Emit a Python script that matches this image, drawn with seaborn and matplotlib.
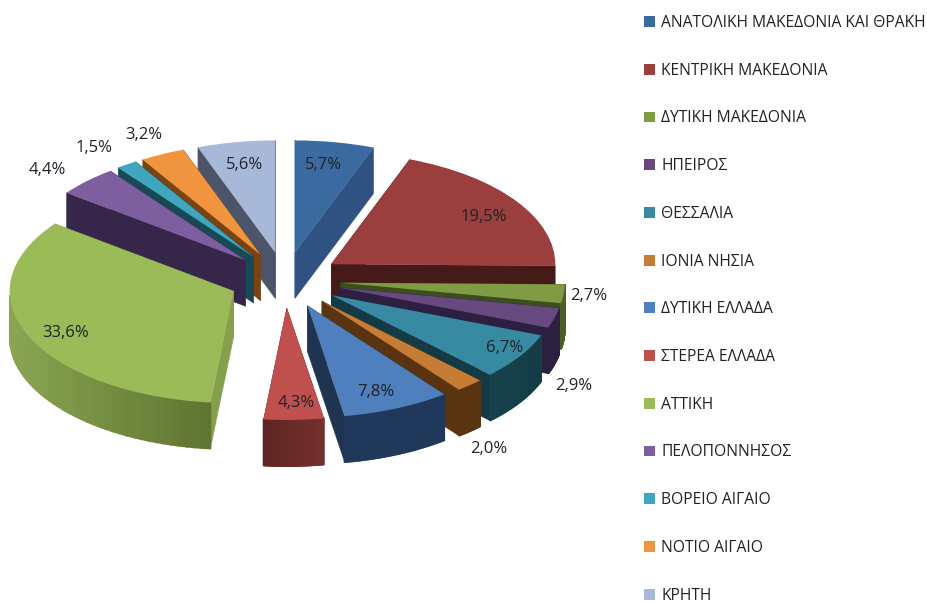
"""Exploded 3D-style pie of the Greek regions, pie faces from ax.pie, walls from the wedge geometry."""
import numpy as np
import matplotlib
matplotlib.use("Agg")
import matplotlib.pyplot as plt
from matplotlib.colors import to_rgb
from matplotlib.patches import Patch
import seaborn as sns

regions = ["ΑΝΑΤΟΛΙΚΗ ΜΑΚΕΔΟΝΙΑ ΚΑΙ ΘΡΑΚΗ", "ΚΕΝΤΡΙΚΗ ΜΑΚΕΔΟΝΙΑ", "ΔΥΤΙΚΗ ΜΑΚΕΔΟΝΙΑ",
           "ΗΠΕΙΡΟΣ", "ΘΕΣΣΑΛΙΑ", "ΙΟΝΙΑ ΝΗΣΙΑ", "ΔΥΤΙΚΗ ΕΛΛΑΔΑ", "ΣΤΕΡΕΑ ΕΛΛΑΔΑ",
           "ΑΤΤΙΚΗ", "ΠΕΛΟΠΟΝΝΗΣΟΣ", "ΒΟΡΕΙΟ ΑΙΓΑΙΟ", "ΝΟΤΙΟ ΑΙΓΑΙΟ", "ΚΡΗΤΗ"]
shares = [5.7, 19.5, 2.7, 2.9, 6.7, 2.0, 7.8, 4.3, 33.6, 4.4, 1.5, 3.2, 5.6]

top_colors = ["#3a6a9f", "#9a3f3d", "#7f9c45", "#67497f", "#388aa3", "#c67c34", "#4f7fbc",
              "#c0504d", "#9bbb59", "#7d5fa0", "#3fa6c0", "#f0953e", "#a8b8d8"]
edge_colors = ["#2f5282", "#451a18", "#3c4d1f", "#2d1f3f", "#143a44", "#5a3410", "#1f3450",
               "#5e2422", "#84a04c", "#35264a", "#174a56", "#7a4313", "#4b5468"]
wall_left = ["#2f5282", "#451a18", "#4a5e25", "#2d1f3f", "#16434e", "#5a3410", "#20385a",
             "#5e2422", "#8aa653", "#35264a", "#174a56", "#7a4313", "#4b5468"]
wall_right = ["#2f5282", "#451a18", "#4a5e25", "#2d1f3f", "#153c46", "#5a3410", "#20385a",
              "#74302d", "#5f7430", "#35264a", "#174a56", "#7a4313", "#4b5468"]

# label centres in picture pixels
label_px = [(324, 165), (484, 217), (589, 296), (574, 386), (505, 348), (489, 449), (376, 392),
            (296, 403), (66, 333), (47, 170), (94, 148), (144, 135), (245, 165)]

W, H = 928, 603
CX, CY = 285, 280     # pie centre in pixels
RX, RY = 224, 112     # ellipse radii in pixels
DEPTH = 46 / RY       # wall height in data units

sns.set_theme(style="white")
plt.rcParams["font.family"] = ["Open Sans", "DejaVu Sans"]


def px(x, y):
    return (x - CX) / RX, (CY - y) / RY


fig = plt.figure(figsize=(W / 100, H / 100), dpi=100)
ax = fig.add_axes([0, 0, 1, 1])

wedges, _ = ax.pie(shares, colors=sns.color_palette(top_colors), explode=[0.25] * len(shares),
                   startangle=90, counterclock=False, normalize=True,
                   wedgeprops={"linewidth": 0})
ax.set_aspect("auto")
ax.set_xlim(-CX / RX, (W - CX) / RX)
ax.set_ylim((CY - H) / RY, CY / RY)
ax.axis("off")

# back slices first, front slices last
for w, edge, c_left, c_right in zip(wedges, edge_colors, wall_left, wall_right):
    mid = np.radians((w.theta1 + w.theta2) / 2)
    base = 10 - 5 * np.sin(mid)
    cx, cy = w.center
    for theta in (w.theta1, w.theta2):
        ex = cx + w.r * np.cos(np.radians(theta))
        ey = cy + w.r * np.sin(np.radians(theta))
        ax.fill([cx, ex, ex, cx], [cy, ey, ey - DEPTH, cy - DEPTH], color=edge, lw=0.3, zorder=base)

    angles = np.radians(np.linspace(w.theta1, w.theta2, 60))
    angles = angles[np.sin(angles) <= 0]
    if len(angles) > 1:
        xs = cx + w.r * np.cos(angles)
        ys = cy + w.r * np.sin(angles)
        left, right = np.array(to_rgb(c_left)), np.array(to_rgb(c_right))
        for i in range(len(angles) - 1):
            t = ((xs[i] + xs[i + 1]) / 2 - xs.min()) / max(xs.max() - xs.min(), 1e-6)
            ax.fill([xs[i], xs[i + 1], xs[i + 1], xs[i]],
                    [ys[i], ys[i + 1], ys[i + 1] - DEPTH, ys[i] - DEPTH],
                    color=left + (right - left) * t, lw=1.2, zorder=base + 0.1)
    w.set_zorder(base + 0.2)

for share, (lx, ly) in zip(shares, label_px):
    ax.text(*px(lx, ly), f"{share:.1f}%".replace(".", ","), ha="center", va="center",
            fontsize=12, color="#1d2328", zorder=30)

handles = [Patch(facecolor=c, linewidth=0) for c in top_colors]
fig.legend(handles, regions, loc="upper left", bbox_to_anchor=(644 / W, 1 - 15 / H),
           frameon=False, borderpad=0, borderaxespad=0, fontsize=11.25, labelcolor="#222222",
           handlelength=0.7, handleheight=0.7, handletextpad=0.4, labelspacing=2.03)

fig.savefig("out.png", dpi=100, facecolor="white")
